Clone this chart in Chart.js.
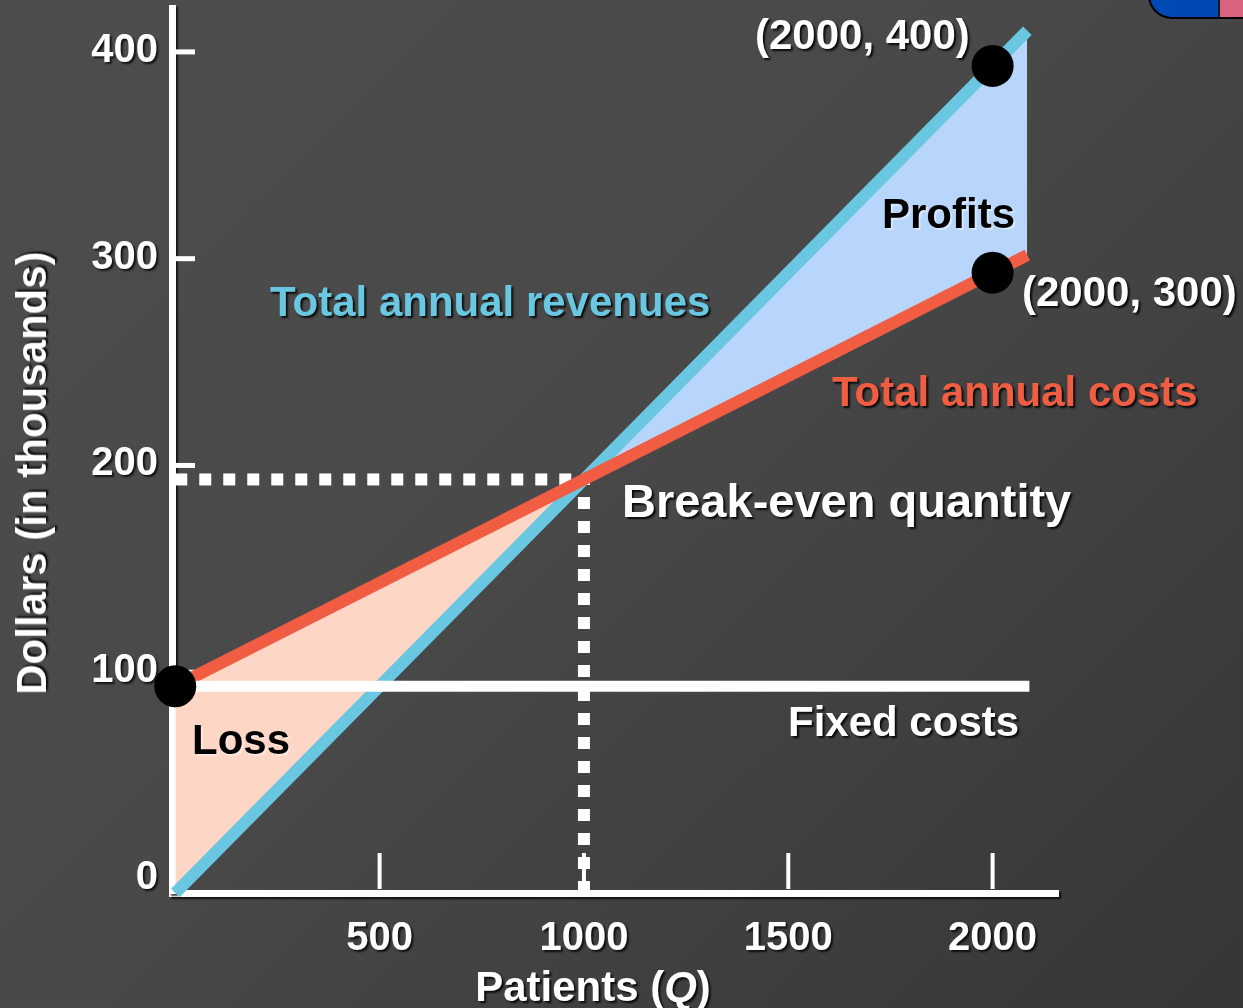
<!DOCTYPE html>
<html lang="en">
<head>
    <meta charset="UTF-8">
    <title>Break-even analysis</title>
    <script src="https://cdn.jsdelivr.net/npm/chart.js"></script>
    <style>
        html, body {
            margin: 0;
            padding: 0;
        }
        body {
            width: 1243px;
            height: 1008px;
            overflow: hidden;
            position: relative;
            font-family: 'Liberation Sans', Arial, sans-serif;
            font-weight: bold;
            background: linear-gradient(135deg, #4d4d4d 0%, #494949 45%, #363636 100%);
        }
        .chart-box {
            position: absolute;
            left: 0;
            top: 0;
            width: 1243px;
            height: 1008px;
        }
        .note {
            position: absolute;
            white-space: nowrap;
            line-height: 1;
            font-size: 42px;
            color: #fff;
            text-shadow: 2px 2px 2px rgba(0, 0, 0, 0.85);
        }
        .dark {
            color: #000;
            text-shadow: 2px 2px 1px rgba(255, 255, 255, 0.45);
        }
        .rev { color: #69c7e1; }
        .cost { color: #f05d42; }
        .ytitle {
            left: 32px;
            top: 473px;
            transform: translate(-50%, -50%) rotate(-90deg);
        }
        .xtitle {
            left: 593px;
            top: 987px;
            transform: translate(-50%, -50%);
        }
        .badge {
            position: absolute;
            left: 1148px;
            top: -32px;
            width: 130px;
            height: 47px;
            border: 2px solid #000;
            border-radius: 24px;
            background: linear-gradient(to right, #0049b3 0, #0049b3 68px, #1a1a1a 68px, #1a1a1a 70px, #d9637f 70px);
        }
    </style>
</head>
<body>
    <div class="chart-box">
        <canvas id="beChart"></canvas>
    </div>

    <div class="badge"></div>

    <div class="note" style="left:755px; top:14px;">(2000, 400)</div>
    <div class="note dark" style="left:882px; top:193px;">Profits</div>
    <div class="note" style="left:1022px; top:271px;">(2000, 300)</div>
    <div class="note rev" style="left:270px; top:281px;">Total annual revenues</div>
    <div class="note cost" style="left:832px; top:371px;">Total annual costs</div>
    <div class="note" style="left:622px; top:477px; font-size:47px;">Break-even quantity</div>
    <div class="note" style="left:788px; top:701px;">Fixed costs</div>
    <div class="note dark" style="left:192px; top:719px;">Loss</div>
    <div class="note ytitle">Dollars (in thousands)</div>
    <div class="note xtitle">Patients (<i>Q</i>)</div>

    <script>
        // values (dollars in thousands)
        const QTY = [0, 2085];
        const REVENUE = [0, 417];
        const COSTS = [100, 308.5];
        const FIXED_Q = [0, 2090];
        const FIXED = [100, 100];
        const BREAK_EVEN_Q = 1000;
        const BREAK_EVEN_D = 200;
        const MARKED_Q = [0, 2000, 2000];
        const MARKED_D = [100, 400, 300];
        const X_TICKS = [500, 1000, 1500, 2000];
        const Y_TICKS = [0, 100, 200, 300, 400];

        const BLUE = '#69c7e1';
        const RED = '#f05d42';
        const PROFIT = '#b8d5fb';
        const LOSS = '#fed6c5';

        const pts = (xs, ys) => xs.map((x, i) => ({ x: x, y: ys[i] }));

        const FONT = { family: "'Liberation Sans', Arial, sans-serif", size: 40, weight: 'bold' };

        // shadow for axis text, switched off again before the data is drawn
        const shadowPlugin = {
            id: 'shadow',
            beforeDraw(chart) {
                const ctx = chart.ctx;
                ctx.shadowColor = 'rgba(0,0,0,0.75)';
                ctx.shadowOffsetX = 2;
                ctx.shadowOffsetY = 2;
                ctx.shadowBlur = 2;
            },
            beforeDatasetsDraw(chart) {
                const ctx = chart.ctx;
                ctx.shadowColor = 'transparent';
                ctx.shadowOffsetX = 0;
                ctx.shadowOffsetY = 0;
                ctx.shadowBlur = 0;

                // inner tick marks
                const xs = chart.scales.x, ys = chart.scales.y;
                ctx.save();
                ctx.strokeStyle = '#fff';
                ctx.lineWidth = 4;
                X_TICKS.forEach(v => {
                    const px = xs.getPixelForValue(v);
                    ctx.beginPath();
                    ctx.moveTo(px, ys.bottom - 4);
                    ctx.lineTo(px, ys.bottom - 40);
                    ctx.stroke();
                });
                ctx.lineWidth = 5;
                Y_TICKS.slice(1).forEach(v => {
                    const py = ys.getPixelForValue(v) - 14;
                    ctx.beginPath();
                    ctx.moveTo(xs.left, py);
                    ctx.lineTo(xs.left + 23, py);
                    ctx.stroke();
                });
                ctx.restore();
            }
        };

        new Chart(document.getElementById('beChart'), {
            type: 'line',
            data: {
                datasets: [
                    {
                        label: 'Marked points',
                        data: pts(MARKED_Q, MARKED_D),
                        showLine: false,
                        pointRadius: 21,
                        pointBackgroundColor: '#000',
                        pointBorderWidth: 0,
                        order: 0,
                        clip: false
                    },
                    {
                        label: 'Fixed costs',
                        data: pts(FIXED_Q, FIXED),
                        borderColor: '#fff',
                        borderWidth: 11,
                        pointRadius: 0,
                        order: 1,
                        clip: false
                    },
                    {
                        label: 'Break-even (dollars)',
                        data: pts([0, BREAK_EVEN_Q], [BREAK_EVEN_D, BREAK_EVEN_D]),
                        borderColor: '#fff',
                        borderWidth: 12,
                        borderDash: [12, 12],
                        borderCapStyle: 'butt',
                        pointRadius: 0,
                        order: 3,
                        clip: false
                    },
                    {
                        label: 'Break-even (patients)',
                        data: pts([BREAK_EVEN_Q, BREAK_EVEN_Q], [0, BREAK_EVEN_D]),
                        borderColor: '#fff',
                        borderWidth: 12,
                        borderDash: [12, 12],
                        borderCapStyle: 'butt',
                        pointRadius: 0,
                        order: 3,
                        clip: false
                    },
                    {
                        label: 'Total annual costs',
                        data: pts(QTY, COSTS),
                        borderColor: RED,
                        borderWidth: 12,
                        pointRadius: 0,
                        order: 2,
                        clip: false
                    },
                    {
                        label: 'Total annual revenues',
                        data: pts(QTY, REVENUE),
                        borderColor: BLUE,
                        borderWidth: 12,
                        pointRadius: 0,
                        fill: { target: 4, above: PROFIT, below: LOSS },
                        order: 4,
                        clip: false
                    }
                ]
            },
            options: {
                responsive: true,
                maintainAspectRatio: false,
                animation: false,
                layout: {
                    autoPadding: false,
                    padding: { left: 0, top: 8, right: 185, bottom: 0 }
                },
                scales: {
                    x: {
                        type: 'linear',
                        min: -8,
                        max: 2160,
                        grid: { display: false, drawTicks: false },
                        border: { display: true, color: '#fff', width: 7 },
                        afterBuildTicks: s => { s.ticks = X_TICKS.map(v => ({ value: v })); },
                        afterFit: s => {
                            s.height = 1008 - 893;
                            s.paddingLeft = 0;
                            s.paddingRight = 0;
                        },
                        ticks: {
                            color: '#fff',
                            font: FONT,
                            padding: 22,
                            maxRotation: 0,
                            autoSkip: false,
                            callback: v => String(v)
                        }
                    },
                    y: {
                        type: 'linear',
                        min: 0,
                        max: 428,
                        grid: { display: false, drawTicks: false },
                        border: { display: true, color: '#fff', width: 7 },
                        afterBuildTicks: s => { s.ticks = Y_TICKS.map(v => ({ value: v })); },
                        afterFit: s => {
                            s.width = 172;
                            s.paddingTop = 0;
                            s.paddingBottom = 0;
                        },
                        ticks: {
                            color: '#fff',
                            font: FONT,
                            padding: 14,
                            labelOffset: -15,
                            autoSkip: false,
                            callback: v => String(v)
                        }
                    }
                },
                plugins: {
                    legend: { display: false },
                    tooltip: { enabled: false },
                    title: { display: false }
                }
            },
            plugins: [shadowPlugin]
        });
    </script>
</body>
</html>
